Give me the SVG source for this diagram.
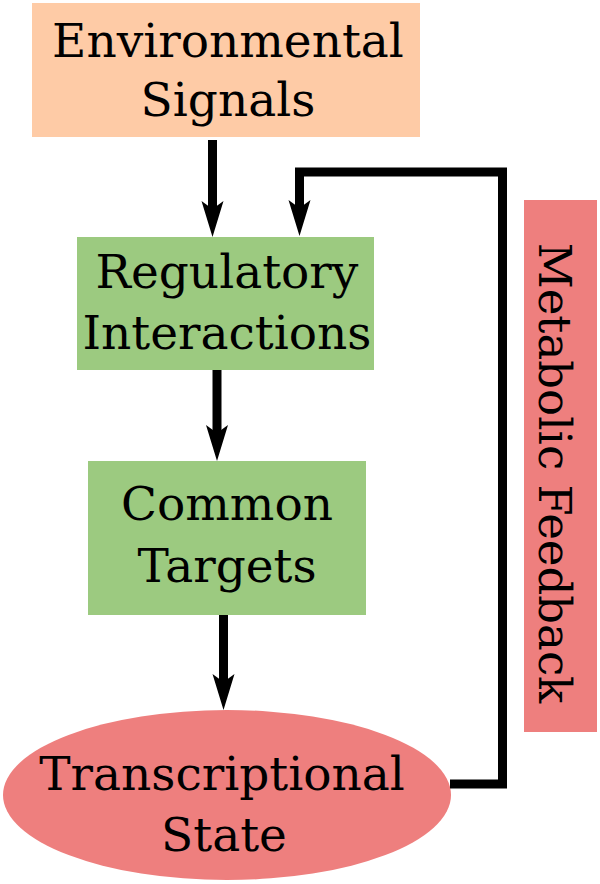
<svg xmlns="http://www.w3.org/2000/svg" width="600" height="884" viewBox="0 0 600 884">
<style>
.lbl{font-family:"DejaVu Serif","Liberation Serif",serif;font-size:47px;fill:#000;text-anchor:middle}
.side{font-size:45px}
.edge{fill:none;stroke:#000;stroke-width:9;stroke-linejoin:miter}
</style>
<defs>
<marker id="ah" markerUnits="userSpaceOnUse" markerWidth="40" markerHeight="26" viewBox="0 -13 40 26" refX="8" refY="0" orient="auto">
<path d="M36,0 L0,-11 L8,0 L0,11 Z" fill="#000"/>
</marker>
</defs>
<rect width="600" height="884" fill="#fff"/>
<g id="env">
<rect x="32" y="3" width="388" height="134" fill="#FECBA6"/>
<text class="lbl" x="228" y="57">Environmental</text>
<text class="lbl" x="228" y="116">Signals</text>
</g>
<g id="reg">
<rect x="77" y="237" width="297" height="133" fill="#9CCA80"/>
<text class="lbl" x="227" y="288">Regulatory</text>
<text class="lbl" x="227" y="349">Interactions</text>
</g>
<g id="common">
<rect x="88" y="461" width="278" height="154" fill="#9CCA80"/>
<text class="lbl" x="227" y="520">Common</text>
<text class="lbl" x="227" y="582">Targets</text>
</g>
<g id="state">
<ellipse cx="227" cy="795" rx="224" ry="85" fill="#EE7F7E"/>
<text class="lbl" x="222" y="790">Transcriptional</text>
<text class="lbl" x="224" y="851">State</text>
</g>
<g id="feedback">
<rect x="524" y="200" width="73" height="532" fill="#EE7F7E"/>
<text class="lbl side" transform="translate(539,473) rotate(90)" x="0" y="0">Metabolic Feedback</text>
</g>
<g id="connectors">
<path class="edge" d="M212.5,140 V209" marker-end="url(#ah)"/>
<path class="edge" d="M217,370 V433" marker-end="url(#ah)"/>
<path class="edge" d="M223.5,615 V682" marker-end="url(#ah)"/>
<path class="edge" d="M450,784 H502.5 V172 H299.5 V208" marker-end="url(#ah)"/>
</g>
</svg>
